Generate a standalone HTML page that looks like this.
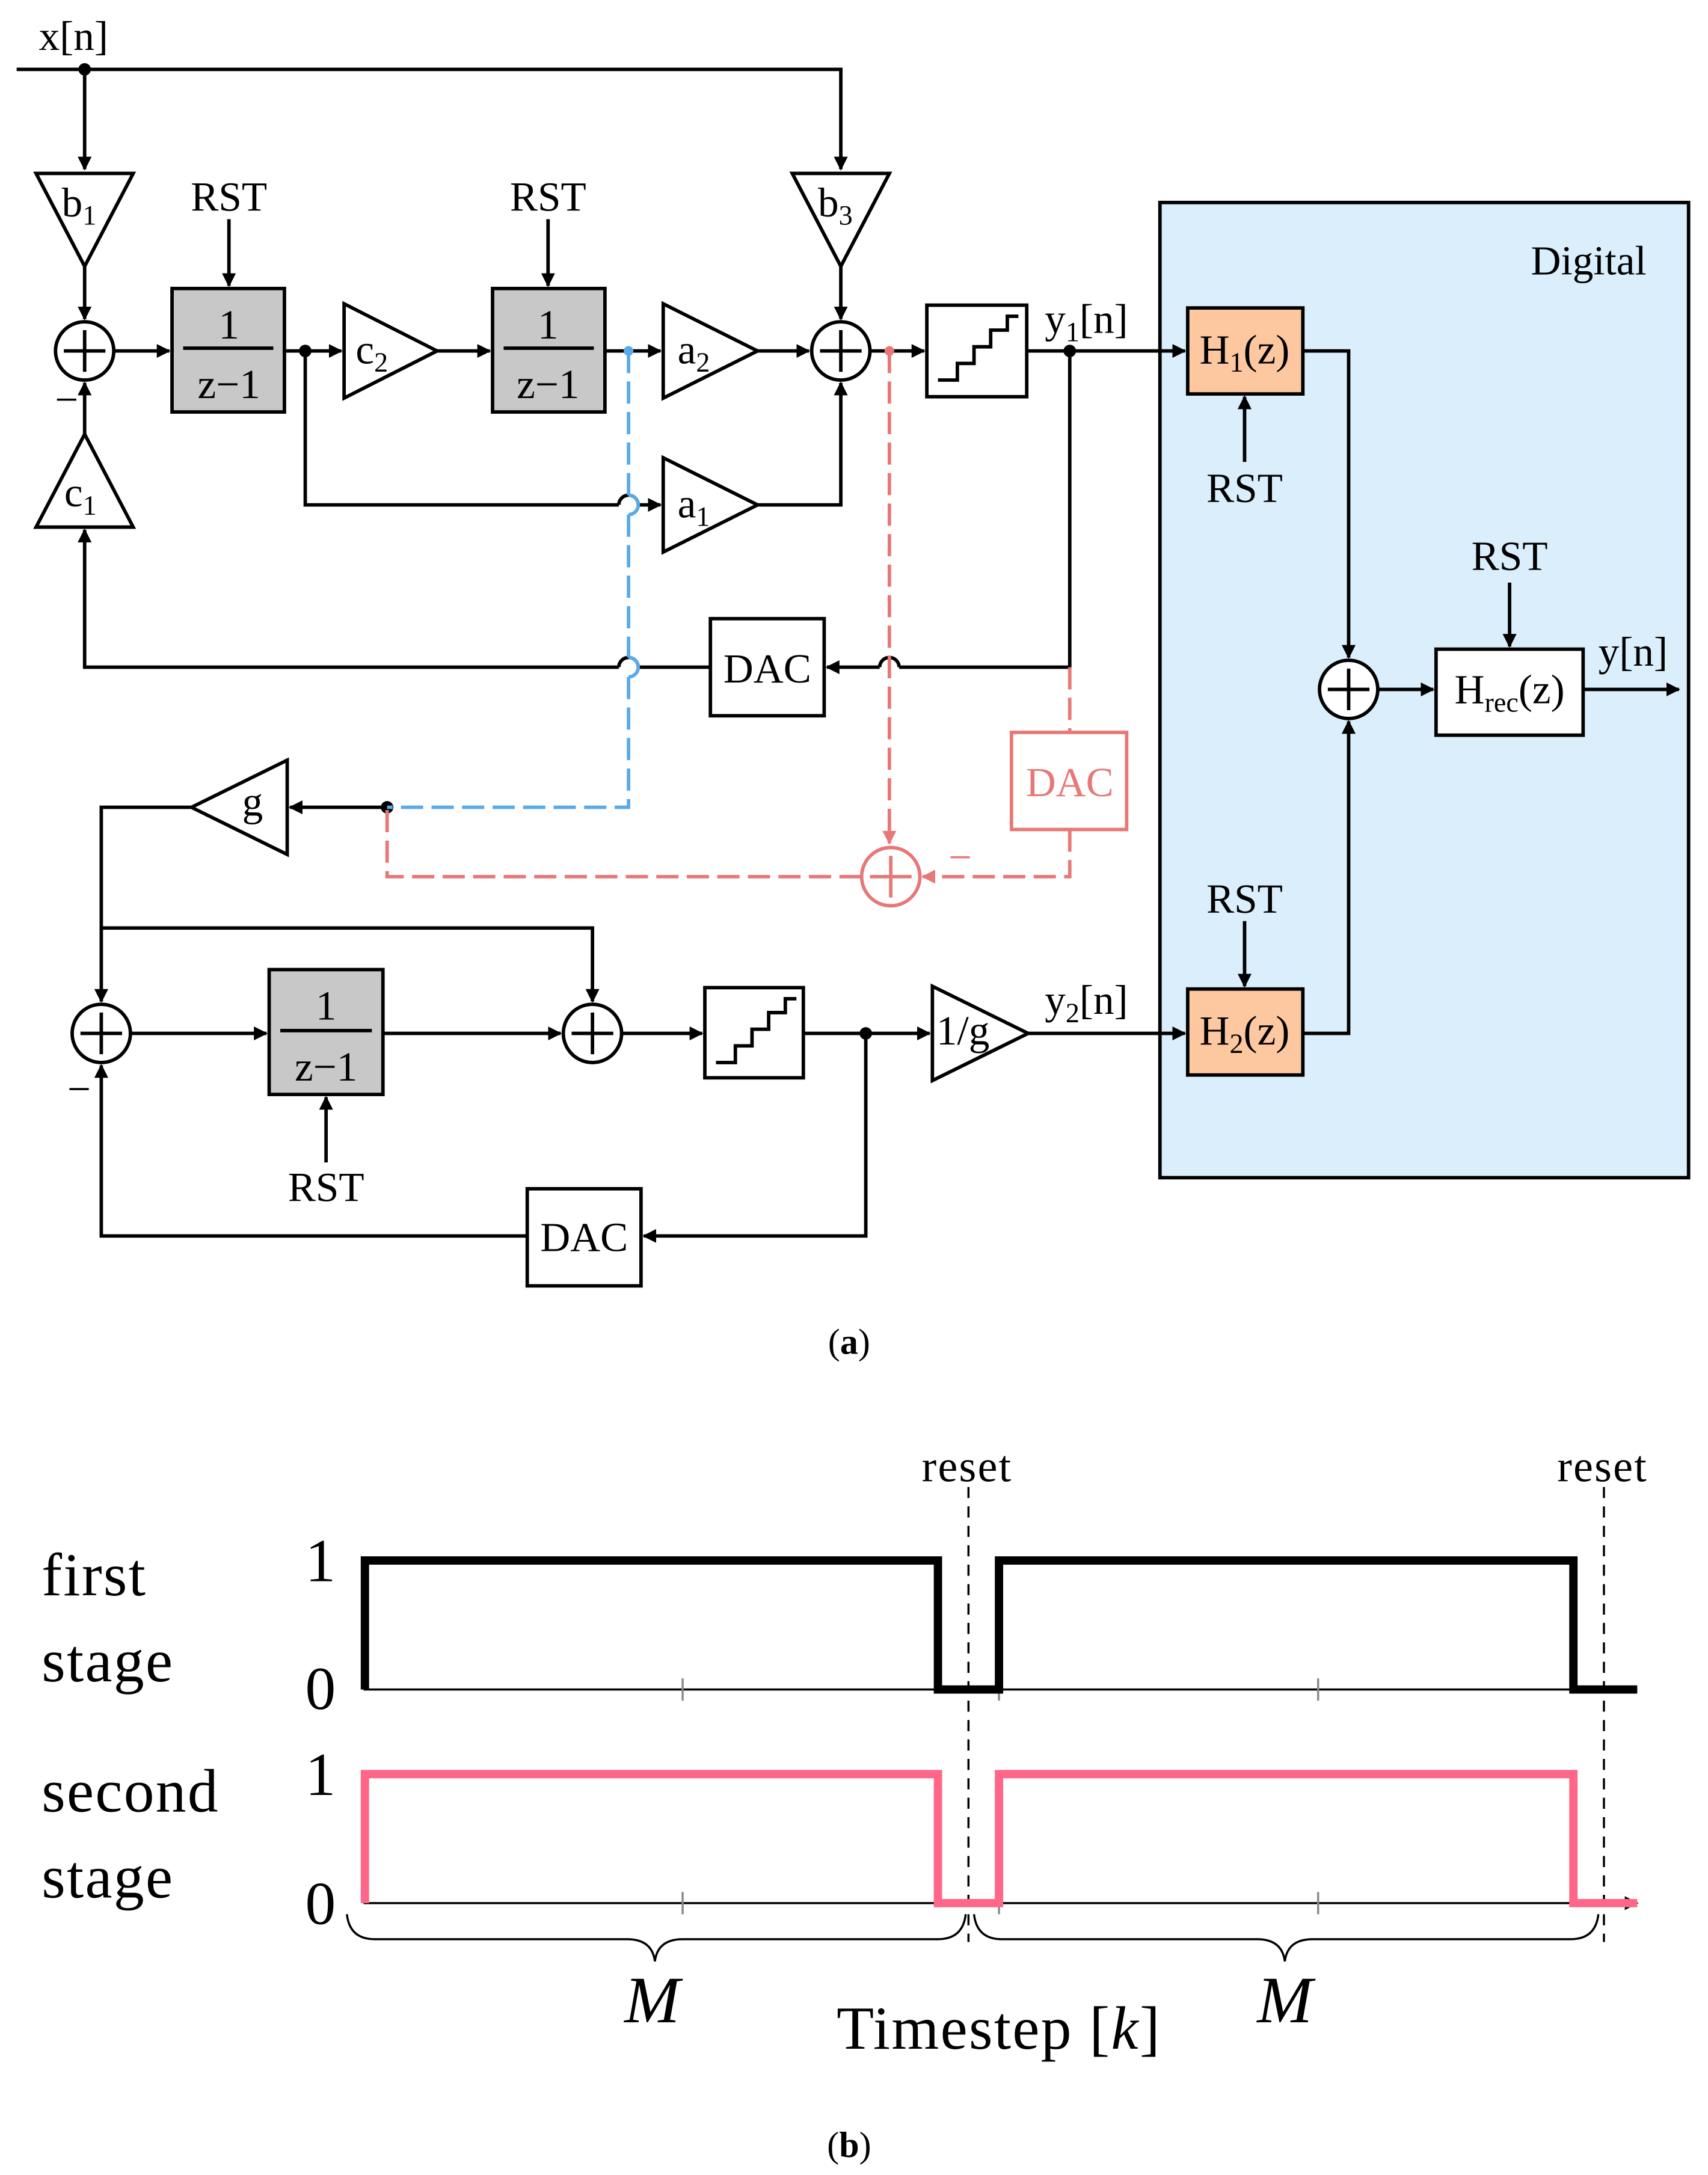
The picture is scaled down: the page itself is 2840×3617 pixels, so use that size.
<!DOCTYPE html>
<html><head><meta charset="utf-8"><style>html,body{margin:0;padding:0;background:#fff}svg{display:block}</style></head>
<body>
<svg width="2840" height="3617" viewBox="0 0 1231 1568" preserveAspectRatio="none" xmlns="http://www.w3.org/2000/svg" font-family="Liberation Serif, serif">
<defs>
<marker id="a" markerWidth="10" markerHeight="10" refX="9" refY="5" orient="auto" markerUnits="userSpaceOnUse"><path d="M0,0 L10,5 L0,10 z" fill="#000"/></marker>
<marker id="p" markerWidth="10" markerHeight="10" refX="9" refY="5" orient="auto" markerUnits="userSpaceOnUse"><path d="M0,0 L10,5 L0,10 z" fill="#e87878"/></marker>
</defs>
<rect x="836" y="146" width="381" height="703" fill="#dbeefc" stroke="#000" stroke-width="2.5"/>
<text x="1145" y="198" font-size="30" text-anchor="middle">Digital</text>
<g stroke="#000" stroke-width="2.5" fill="none">
<path d="M12,50 H606 V122" marker-end="url(#a)"/>
<path d="M61,50 V122" marker-end="url(#a)"/>
<path d="M61,192 V230" marker-end="url(#a)"/>
<path d="M82,253 H122" marker-end="url(#a)"/>
<path d="M205,253 H246" marker-end="url(#a)"/>
<path d="M315,253 H353" marker-end="url(#a)"/>
<path d="M436,253 H476" marker-end="url(#a)"/>
<path d="M546,253 H583" marker-end="url(#a)"/>
<path d="M606,192 V230" marker-end="url(#a)"/>
<path d="M627,253 H666" marker-end="url(#a)"/>
<path d="M740,253 H854" marker-end="url(#a)"/>
<path d="M220,253 V364 H446 M460,364 H476" marker-end="url(#a)"/>
<path d="M446,364 A7,7 0 0 1 460,364"/>
<path d="M546,364 H606 V276" marker-end="url(#a)"/>
<path d="M771,253 V481 H648 M634,481 H596" marker-end="url(#a)"/>
<path d="M634,481 A7,7 0 0 1 648,481"/>
<path d="M512,481 H460 M446,481 H61 V382" marker-end="url(#a)"/>
<path d="M446,481 A7,7 0 0 1 460,481"/>
<path d="M61,313 V276" marker-end="url(#a)"/>
<path d="M165,158 V206" marker-end="url(#a)"/>
<path d="M395,158 V206" marker-end="url(#a)"/>
<path d="M279,582 H209" marker-end="url(#a)"/>
<path d="M138,582 H73 V722" marker-end="url(#a)"/>
<path d="M73,669 H427 V722" marker-end="url(#a)"/>
<path d="M94,745 H192" marker-end="url(#a)"/>
<path d="M276,745 H404" marker-end="url(#a)"/>
<path d="M448,745 H506" marker-end="url(#a)"/>
<path d="M579,745 H670" marker-end="url(#a)"/>
<path d="M741,745 H854" marker-end="url(#a)"/>
<path d="M624,745 V891 H464" marker-end="url(#a)"/>
<path d="M380,891 H73 V768" marker-end="url(#a)"/>
<path d="M235,838 V791" marker-end="url(#a)"/>
<path d="M897,333 V286" marker-end="url(#a)"/>
<path d="M897,664 V711" marker-end="url(#a)"/>
<path d="M939,253 H972 V474" marker-end="url(#a)"/>
<path d="M939,745 H972 V520" marker-end="url(#a)"/>
<path d="M993,497 H1033" marker-end="url(#a)"/>
<path d="M1088,420 V466" marker-end="url(#a)"/>
<path d="M1141,497 H1210" marker-end="url(#a)"/>
</g>
<g stroke="#000" stroke-width="2.5" fill="#fff">
<polygon points="26,125 96,125 61,192"/>
<polygon points="571,125 641,125 606,192"/>
<polygon points="248,219 248,287 315,253"/>
<polygon points="478,219 478,287 546,253"/>
<polygon points="478,330 478,398 546,364"/>
<polygon points="26,380 96,380 61,313"/>
<polygon points="207,548 207,616 138,582"/>
<polygon points="672,711 672,779 741,745"/>
<rect x="124" y="208" width="81" height="89" fill="#c8c8c8"/>
<rect x="355" y="208" width="81" height="89" fill="#c8c8c8"/>
<rect x="194" y="699" width="82" height="90" fill="#c8c8c8"/>
<rect x="668" y="220" width="72" height="66"/>
<rect x="508" y="712" width="71" height="65"/>
<rect x="512" y="446" width="82" height="70"/>
<rect x="380" y="857" width="82" height="70"/>
<rect x="856" y="222" width="83" height="62" fill="#fdc8a0"/>
<rect x="856" y="713" width="83" height="62" fill="#fdc8a0"/>
<rect x="1035" y="468" width="106" height="62"/>
<circle cx="61" cy="253" r="21"/><circle cx="606" cy="253" r="21"/>
<circle cx="73" cy="745" r="21"/><circle cx="427" cy="745" r="21"/>
<circle cx="972" cy="497" r="21"/>
</g>
<g stroke="#000" stroke-width="2.5">
<path d="M46,253 H76 M61,238 V268 M591,253 H621 M606,238 V268 M58,745 H88 M73,730 V760 M412,745 H442 M427,730 V760 M957,497 H987 M972,482 V512"/>
<path d="M132,251 H197 M363,251 H428 M202,743 H268"/>
<path d="M676,274 H690 V262 H702 V250 H714 V238 H726 V228 H734 M516,766 H530 V754 H542 V742 H554 V730 H566 V720 H574" fill="none"/>
</g>
<g fill="#000"><circle cx="61" cy="50" r="4.5"/><circle cx="220" cy="253" r="4.5"/><circle cx="771" cy="253" r="4.5"/><circle cx="624" cy="745" r="4.5"/><circle cx="279" cy="582" r="4.5"/></g>
<g fill="none" stroke-width="2.5" stroke-dasharray="16,6">
<path d="M453,253 V357 M453,371 V474 M453,488 V582 H279" stroke="#5aaae8"/>
<path d="M453,357 A7,7 0 0 1 453,371 M453,474 A7,7 0 0 1 453,488" stroke="#5aaae8" stroke-dasharray="none"/>
<path d="M641,253 V608" stroke="#e87878" marker-end="url(#p)"/>
<path d="M771,481 V528 M771,598 V632 H665" stroke="#e87878" marker-end="url(#p)"/>
<path d="M621,632 H279 V582" stroke="#e87878"/>
</g>
<circle cx="453" cy="253" r="3.5" fill="#5aaae8"/><circle cx="641" cy="253" r="3.5" fill="#e87878"/>
<rect x="729" y="528" width="83" height="70" fill="#fff" stroke="#e87878" stroke-width="2.5"/>
<circle cx="642" cy="632" r="21" fill="none" stroke="#e87878" stroke-width="2.5"/>
<path d="M627,632 H657 M642,617 V647" stroke="#e87878" stroke-width="2.5"/>
<text x="771" y="574" font-size="30" text-anchor="middle" fill="#e87878">DAC</text>
<text x="692" y="628" font-size="30" text-anchor="middle" fill="#e87878">−</text>
<g font-size="30" text-anchor="middle">
<text x="53" y="36">x[n]</text>
<text x="57" y="156">b<tspan font-size="20" dy="6">1</tspan></text>
<text x="602" y="156">b<tspan font-size="20" dy="6">3</tspan></text>
<text x="165" y="152">RST</text><text x="395" y="152">RST</text>
<text x="165" y="244">1</text><text x="165" y="287">z−1</text>
<text x="395" y="244">1</text><text x="395" y="287">z−1</text>
<text x="235" y="735">1</text><text x="235" y="779">z−1</text>
<text x="268" y="262">c<tspan font-size="20" dy="6">2</tspan></text>
<text x="500" y="262">a<tspan font-size="20" dy="6">2</tspan></text>
<text x="500" y="373">a<tspan font-size="20" dy="6">1</tspan></text>
<text x="58" y="365">c<tspan font-size="20" dy="6">1</tspan></text>
<text x="48" y="298">−</text><text x="57" y="795">−</text>
<text x="783" y="240">y<tspan font-size="20" dy="6">1</tspan><tspan dy="-6">[n]</tspan></text>
<text x="783" y="731">y<tspan font-size="20" dy="6">2</tspan><tspan dy="-6">[n]</tspan></text>
<text x="897" y="262">H<tspan font-size="20" dy="6">1</tspan><tspan dy="-6">(z)</tspan></text>
<text x="897" y="753">H<tspan font-size="20" dy="6">2</tspan><tspan dy="-6">(z)</tspan></text>
<text x="1088" y="507">H<tspan font-size="20" dy="6">rec</tspan><tspan dy="-6">(z)</tspan></text>
<text x="1177" y="480">y[n]</text>
<text x="897" y="362">RST</text><text x="897" y="658">RST</text><text x="1088" y="411">RST</text><text x="235" y="866">RST</text>
<text x="553" y="492">DAC</text><text x="421" y="902">DAC</text>
<text x="182" y="588">g</text><text x="694" y="753">1/g</text>
<text x="612" y="976" font-size="26">(<tspan font-weight="bold">a</tspan>)</text>
<text x="612" y="1555" font-size="26">(<tspan font-weight="bold">b</tspan>)</text>
</g>
<g font-size="44">
<text x="697" y="1068" text-anchor="middle" font-size="32" letter-spacing="1">reset</text>
<text x="1155" y="1068" text-anchor="middle" font-size="32" letter-spacing="1">reset</text>
<text x="30" y="1150" letter-spacing="1">first</text><text x="30" y="1212" letter-spacing="1">stage</text>
<text x="30" y="1306" letter-spacing="1">second</text><text x="30" y="1368" letter-spacing="1">stage</text>
<text x="231" y="1140" text-anchor="middle">1</text><text x="231" y="1232" text-anchor="middle">0</text>
<text x="231" y="1294" text-anchor="middle">1</text><text x="231" y="1387" text-anchor="middle">0</text>
<text x="470" y="1458" text-anchor="middle" font-style="italic" font-size="48">M</text>
<text x="926" y="1458" text-anchor="middle" font-style="italic" font-size="48">M</text>
<text x="720" y="1477" text-anchor="middle" font-size="44" letter-spacing="1">Timestep [<tspan font-style="italic">k</tspan>]</text>
</g>
<g stroke="#000" stroke-width="1.5" fill="none">
<path d="M262,1218 H1180 M262,1372 H1180" marker-end="url(#a)"/>
<path d="M492,1210 V1226 M720,1210 V1226 M950,1210 V1226 M492,1364 V1380 M720,1364 V1380 M950,1364 V1380" stroke="#888"/>
<path d="M698,1072 V1400 M1156,1072 V1400" stroke-dasharray="8,6"/>
<path d="M250,1380 Q252,1398 270,1398 H452 Q470,1398 472,1414 Q474,1398 492,1398 H676 Q694,1398 696,1380"/>
<path d="M702,1380 Q704,1398 722,1398 H906 Q924,1398 926,1414 Q928,1398 946,1398 H1132 Q1150,1398 1152,1380"/>
</g>
<path d="M263,1218 V1125 H676 V1218 H720 V1125 H1134 V1218 H1180" fill="none" stroke="#000" stroke-width="6"/>
<path d="M263,1372 V1279 H676 V1372 H720 V1279 H1134 V1372 H1180" fill="none" stroke="#ff6688" stroke-width="6"/>
</svg>
</body></html>
